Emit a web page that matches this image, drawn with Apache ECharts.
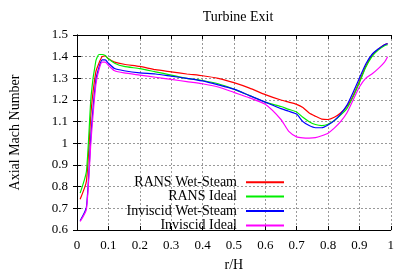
<!DOCTYPE html>
<html><head><meta charset="utf-8">
<script src="https://cdn.jsdelivr.net/npm/echarts@6/dist/echarts.min.js"></script>
<style>html,body{margin:0;padding:0;background:#fff}#c{width:397px;height:277px}</style>
</head><body><div id="c"></div>
<script>
var rH = [0.01, 0.03, 0.045, 0.06, 0.07, 0.08, 0.09, 0.1, 0.12, 0.15, 0.2, 0.25, 0.3, 0.35, 0.4, 0.45, 0.5, 0.55, 0.6, 0.65, 0.675, 0.7, 0.72, 0.74, 0.76, 0.78, 0.8, 0.82, 0.84, 0.86, 0.88, 0.9, 0.92, 0.94, 0.96, 0.98, 0.99];
var ransWet = [0.742, 0.825, 1.15, 1.33, 1.37, 1.40, 1.403, 1.39, 1.375, 1.365, 1.355, 1.34, 1.33, 1.32, 1.312, 1.30, 1.28, 1.255, 1.225, 1.20, 1.19, 1.18, 1.165, 1.14, 1.125, 1.112, 1.11, 1.12, 1.14, 1.17, 1.22, 1.285, 1.355, 1.405, 1.435, 1.455, 1.46];
var ransIdeal = [0.77, 0.87, 1.22, 1.38, 1.41, 1.41, 1.405, 1.39, 1.37, 1.355, 1.345, 1.33, 1.315, 1.30, 1.29, 1.275, 1.25, 1.22, 1.19, 1.17, 1.157, 1.145, 1.12, 1.10, 1.087, 1.082, 1.088, 1.105, 1.13, 1.16, 1.215, 1.28, 1.35, 1.40, 1.43, 1.45, 1.455];
var invWet = [0.643, 0.705, 1.05, 1.29, 1.35, 1.385, 1.385, 1.37, 1.345, 1.335, 1.325, 1.32, 1.31, 1.30, 1.288, 1.27, 1.25, 1.22, 1.19, 1.16, 1.148, 1.135, 1.10, 1.082, 1.072, 1.072, 1.085, 1.105, 1.135, 1.175, 1.235, 1.30, 1.365, 1.41, 1.435, 1.455, 1.46];
var invIdeal = [0.639, 0.695, 1.02, 1.27, 1.34, 1.375, 1.375, 1.36, 1.335, 1.325, 1.315, 1.305, 1.295, 1.285, 1.275, 1.26, 1.235, 1.21, 1.18, 1.11, 1.055, 1.03, 1.025, 1.024, 1.026, 1.035, 1.047, 1.07, 1.10, 1.14, 1.20, 1.26, 1.30, 1.32, 1.345, 1.375, 1.40];
var seriesNames = ['RANS Wet-Steam', 'RANS Ideal', 'Inviscid Wet-Steam', 'Inviscid Ideal'];
var seriesColors = ['#ff0000', '#00ee00', '#0000ff', '#ff00ff'];
var seriesValues = [ransWet, ransIdeal, invWet, invIdeal];

var FONT = 'Liberation Serif';
function pairs(vals){ return rH.map(function(x,i){ return [x, vals[i]]; }); }
var chart = echarts.init(document.getElementById('c'), null, {renderer:'canvas'});
var gridLine = {show:true, lineStyle:{color:'#999', type:[2,2], width:1}};
chart.setOption({
  animation:false,
  backgroundColor:'#fff',
  title:{text:'Turbine Exit', left:233, top:5, textAlign:'center',
    textStyle:{fontFamily:FONT, fontSize:14, fontWeight:'normal', color:'#000'}},
  grid:{left:74, right:4, top:35, bottom:41},
  legend:{orient:'vertical', right:112, top:175, padding:0, align:'right', itemWidth:38, itemHeight:10, itemGap:0,
    itemStyle:{opacity:0},
    data:seriesNames,
    textStyle:{fontFamily:FONT, fontSize:14, lineHeight:14.4, color:'#000', width:140, align:'right', padding:[0,4,0,0]}},
  xAxis:[{type:'value', min:0, max:1, interval:0.1, name:'r/H', nameLocation:'middle', nameGap:28,
    nameTextStyle:{fontFamily:FONT, fontSize:14, color:'#000'},
    axisLine:{show:true, lineStyle:{color:'#000', width:1}},
    axisTick:{show:true, inside:true, length:4, lineStyle:{color:'#000'}},
    axisLabel:{fontFamily:FONT, fontSize:13, color:'#000', margin:9},
    splitLine:gridLine},
   {type:'value', min:0, max:1, interval:0.1, position:'top',
    axisLine:{show:true, lineStyle:{color:'#000', width:1}},
    axisTick:{show:true, inside:true, length:4, lineStyle:{color:'#000'}},
    axisLabel:{show:false}, splitLine:{show:false}}],
  yAxis:[{type:'value', min:0.6, max:1.5, interval:0.1, name:'Axial Mach Number', nameLocation:'middle', nameGap:55,
    nameTextStyle:{fontFamily:FONT, fontSize:14, color:'#000'},
    axisLine:{show:true, lineStyle:{color:'#000', width:1}},
    axisTick:{show:true, inside:true, length:4, lineStyle:{color:'#000'}},
    axisLabel:{fontFamily:FONT, fontSize:13, color:'#000', margin:9},
    splitLine:gridLine},
   {type:'value', min:0.6, max:1.5, interval:0.1, position:'right',
    axisLine:{show:true, lineStyle:{color:'#000', width:1}},
    axisTick:{show:true, inside:true, length:4, lineStyle:{color:'#000'}},
    axisLabel:{show:false}, splitLine:{show:false}}],
  series: seriesNames.map(function(n,i){
    return {name:n, type:'line', data:pairs(seriesValues[i]), symbol:'none', smooth:0.2,
      xAxisIndex:0, yAxisIndex:0, color:seriesColors[i], lineStyle:{width:1.2, color:seriesColors[i]}};
  })
});
</script></body></html>
